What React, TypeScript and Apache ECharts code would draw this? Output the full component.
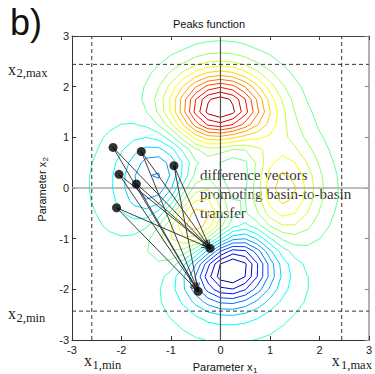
import React, { useEffect, useRef } from "react";
import * as echarts from "echarts";

// grid of the Peaks function (x1 and x2 share the same sampling)
const GRID = [-3, -2.75, -2.5, -2.25, -2, -1.75, -1.5, -1.25, -1, -0.75, -0.5, -0.25, 0, 0.25, 0.5, 0.75, 1, 1.25, 1.5, 1.75, 2, 2.25, 2.5, 2.75, 3];
// contour levels (20 levels between grid min and max)
const LEVELS = [-5.648, -4.965, -4.283, -3.6, -2.918, -2.236, -1.553, -0.871, -0.189, 0.494, 1.176, 1.859, 2.541, 3.224, 3.906, 4.588, 5.271, 5.953, 6.636, 7.318];
const COLOR_LIMITS = [-6.33, 8.0];
// population members and basin targets
const SOURCES = [[-2.17, 0.8], [-1.6, 0.72], [-0.94, 0.44], [-2.05, 0.27], [-1.7, 0.08], [-2.1, -0.39]];
const TARGETS = [[-0.21, -1.19], [-0.45, -2.04]];
// search bounds
const X1_LIMITS = [-2.6, 2.45];
const X2_LIMITS = [-2.43, 2.44];
const AXIS_RANGE = [-3, 3];

function peaks(x: number, y: number) {
  return (
    3 * (1 - x) ** 2 * Math.exp(-x * x - (y + 1) ** 2) -
    10 * (x / 5 - x ** 3 - y ** 5) * Math.exp(-x * x - y * y) -
    Math.exp(-((x + 1) ** 2) - y * y) / 3
  );
}

function jet(t: number) {
  const c = (v: number) => Math.round(255 * Math.max(0, Math.min(1, v)));
  return `rgb(${c(Math.min(4 * t - 1.5, -4 * t + 4.5))},${c(Math.min(4 * t - 0.5, -4 * t + 3.5))},${c(Math.min(4 * t + 0.5, -4 * t + 2.5))})`;
}

function contourPolylines(Z: number[][], L: number): number[][][] {
  const n = GRID.length;
  const pts = new Map<string, number[]>();
  const segs: string[][] = [];
  const ep = (key: string, xa: number, ya: number, za: number, xb: number, yb: number, zb: number) => {
    if (!pts.has(key)) {
      const t = (L - za) / (zb - za);
      pts.set(key, [xa + t * (xb - xa), ya + t * (yb - ya)]);
    }
    return key;
  };
  for (let j = 0; j < n - 1; j++) {
    for (let i = 0; i < n - 1; i++) {
      const x0 = GRID[i], x1 = GRID[i + 1], y0 = GRID[j], y1 = GRID[j + 1];
      const v0 = Z[j][i], v1 = Z[j][i + 1], v2 = Z[j + 1][i + 1], v3 = Z[j + 1][i];
      const cr: Record<string, string> = {};
      if ((v0 >= L) !== (v1 >= L)) cr.B = ep(`h${i}_${j}`, x0, y0, v0, x1, y0, v1);
      if ((v1 >= L) !== (v2 >= L)) cr.R = ep(`v${i + 1}_${j}`, x1, y0, v1, x1, y1, v2);
      if ((v3 >= L) !== (v2 >= L)) cr.T = ep(`h${i}_${j + 1}`, x0, y1, v3, x1, y1, v2);
      if ((v0 >= L) !== (v3 >= L)) cr.L = ep(`v${i}_${j}`, x0, y0, v0, x0, y1, v3);
      const ks = Object.keys(cr);
      if (ks.length === 2) segs.push([cr[ks[0]], cr[ks[1]]]);
      else if (ks.length === 4) {
        const c = (v0 + v1 + v2 + v3) / 4 >= L;
        if (c === v0 >= L) {
          segs.push([cr.B, cr.R]);
          segs.push([cr.T, cr.L]);
        } else {
          segs.push([cr.B, cr.L]);
          segs.push([cr.R, cr.T]);
        }
      }
    }
  }
  const adj = new Map<string, number[]>();
  segs.forEach((s, idx) => {
    s.forEach((k) => {
      if (!adj.has(k)) adj.set(k, []);
      adj.get(k)!.push(idx);
    });
  });
  const used = new Array(segs.length).fill(false);
  const lines: number[][][] = [];
  for (let s = 0; s < segs.length; s++) {
    if (used[s]) continue;
    used[s] = true;
    const chain = [segs[s][0], segs[s][1]];
    let cur = segs[s][1];
    for (;;) {
      const nx = (adj.get(cur) || []).find((q) => !used[q]);
      if (nx === undefined) break;
      used[nx] = true;
      cur = segs[nx][0] === cur ? segs[nx][1] : segs[nx][0];
      chain.push(cur);
    }
    cur = segs[s][0];
    for (;;) {
      const nx = (adj.get(cur) || []).find((q) => !used[q]);
      if (nx === undefined) break;
      used[nx] = true;
      cur = segs[nx][0] === cur ? segs[nx][1] : segs[nx][0];
      chain.unshift(cur);
    }
    lines.push(chain.map((k) => pts.get(k)!));
  }
  return lines;
}

const SANS = "Liberation Sans";
const SERIF = "Liberation Serif";

function subLabel(x: number, baseline: number, sub: string, subX: number, subBaseline: number) {
  return [
    { type: "text", x, y: baseline - 0.34 * 16, silent: true, style: { text: "x", font: `16px "${SERIF}"`, fill: "#222", textAlign: "left", textVerticalAlign: "middle" } },
    { type: "text", x: subX, y: subBaseline - 0.34 * 12.5, silent: true, style: { text: sub, font: `12.5px "${SERIF}"`, fill: "#222", textAlign: "left", textVerticalAlign: "middle" } },
  ];
}

export default function App() {
  const ref = useRef<HTMLDivElement>(null);
  useEffect(() => {
    if (!ref.current) return;
    const chart = echarts.init(ref.current, undefined, { renderer: "svg" });
    const Z = GRID.map((y) => GRID.map((x) => peaks(x, y)));
    const contourSeries: any[] = [];
    LEVELS.forEach((L) => {
      const color = jet((L - COLOR_LIMITS[0]) / (COLOR_LIMITS[1] - COLOR_LIMITS[0]));
      contourPolylines(Z, L).forEach((pl) => {
        contourSeries.push({
          type: "line",
          data: pl,
          showSymbol: false,
          symbol: "none",
          silent: true,
          z: 2,
          lineStyle: { color, width: 1 },
        });
      });
    });
    const refLine = (data: number[][], color: string, width: number, type: any) => ({
      type: "line",
      data,
      symbol: "none",
      silent: true,
      z: 3,
      lineStyle: { color, width, type },
    });
    const vectors = SOURCES.flatMap((s) => TARGETS.map((t) => [s[0], s[1], t[0], t[1]]));
    const axisCommon = {
      type: "value",
      min: AXIS_RANGE[0],
      max: AXIS_RANGE[1],
      interval: 1,
      splitLine: { show: false },
    };
    const option: any = {
      animation: false,
      backgroundColor: "#fff",
      grid: { left: 72, top: 36, width: 298, height: 304 },
      xAxis: [
        {
          ...axisCommon,
          position: "bottom",
          axisLine: { show: true, onZero: false, lineStyle: { color: "#333", width: 1 } },
          axisTick: { show: true, inside: true, length: 4, lineStyle: { color: "#333" } },
          axisLabel: { fontSize: 11, fontFamily: SANS, color: "#222", margin: 4 },
        },
        {
          ...axisCommon,
          position: "top",
          axisLine: { show: true, onZero: false, lineStyle: { color: "#444", width: 1 } },
          axisTick: { show: true, inside: true, length: 4, lineStyle: { color: "#444" } },
          axisLabel: { show: false },
        },
      ],
      yAxis: [
        {
          ...axisCommon,
          position: "left",
          axisLine: { show: true, onZero: false, lineStyle: { color: "#333", width: 1 } },
          axisTick: { show: true, inside: true, length: 4, lineStyle: { color: "#333" } },
          axisLabel: { fontSize: 11, fontFamily: SANS, color: "#222", margin: 3 },
        },
        {
          ...axisCommon,
          position: "right",
          axisLine: { show: true, onZero: false, lineStyle: { color: "#999", width: 1.5 } },
          axisTick: { show: true, inside: true, length: 4, lineStyle: { color: "#888" } },
          axisLabel: { show: false },
        },
      ],
      series: [
        ...contourSeries,
        refLine([[0, AXIS_RANGE[0]], [0, AXIS_RANGE[1]]], "#555", 1.2, "solid"),
        refLine([[AXIS_RANGE[0], 0], [AXIS_RANGE[1], 0]], "#a8a8a8", 1.5, "solid"),
        ...X1_LIMITS.map((v) => refLine([[v, AXIS_RANGE[0]], [v, AXIS_RANGE[1]]], "#333", 1, [4, 3])),
        ...X2_LIMITS.map((v) => refLine([[AXIS_RANGE[0], v], [AXIS_RANGE[1], v]], "#333", 1, [4, 3])),
        {
          type: "custom",
          coordinateSystem: "cartesian2d",
          data: vectors,
          encode: { x: [0, 2], y: [1, 3] },
          silent: true,
          z: 4,
          renderItem: (params: any, api: any) => {
            const p1 = api.coord([api.value(0), api.value(1)]);
            const p2 = api.coord([api.value(2), api.value(3)]);
            const ang = Math.atan2(p2[1] - p1[1], p2[0] - p1[0]);
            const len = 9;
            const a = 0.3;
            const h1 = [p2[0] - len * Math.cos(ang - a), p2[1] - len * Math.sin(ang - a)];
            const h2 = [p2[0] - len * Math.cos(ang + a), p2[1] - len * Math.sin(ang + a)];
            const st = { stroke: "#2a2a2a", lineWidth: 0.9, fill: "none" };
            return {
              type: "group",
              children: [
                { type: "line", shape: { x1: p1[0], y1: p1[1], x2: p2[0], y2: p2[1] }, style: st },
                { type: "polyline", shape: { points: [h1, p2, h2] }, style: st },
              ],
            };
          },
        },
        {
          type: "scatter",
          data: [...SOURCES, ...TARGETS],
          symbolSize: 9,
          itemStyle: { color: "#000" },
          silent: true,
          z: 5,
        },
      ],
      graphic: [
        { type: "text", x: 10, y: 22.5, silent: true, style: { text: "b)", font: `36px "${SANS}"`, fill: "#111", textAlign: "left", textVerticalAlign: "middle" } },
        { type: "text", x: 209, y: 24.2, silent: true, style: { text: "Peaks function", font: `11px "${SANS}"`, fill: "#111", textAlign: "center", textVerticalAlign: "middle" } },
        { type: "text", x: 192.7, y: 371.2 - 3.8, silent: true, style: { text: "Parameter x", font: `11px "${SANS}"`, fill: "#111", textAlign: "left", textVerticalAlign: "middle" } },
        { type: "text", x: 253, y: 371.2 + 2 - 2.8, silent: true, style: { text: "1", font: `8px "${SANS}"`, fill: "#111", textAlign: "left", textVerticalAlign: "middle" } },
        {
          type: "group",
          x: 46.2,
          y: 221.7,
          rotation: Math.PI / 2,
          silent: true,
          children: [
            { type: "text", x: 0, y: -3.8, style: { text: "Parameter x", font: `11px "${SANS}"`, fill: "#111", textAlign: "left", textVerticalAlign: "middle" } },
            { type: "text", x: 60.3, y: -0.8, style: { text: "2", font: `8px "${SANS}"`, fill: "#111", textAlign: "left", textVerticalAlign: "middle" } },
          ],
        },
        ...subLabel(8, 75, "2,max", 16.5, 77.5),
        ...subLabel(8, 318.5, "2,min", 16.5, 322),
        ...subLabel(84, 366, "1,min", 92.5, 369),
        ...subLabel(331.7, 366, "1,max", 341, 369),
        { type: "text", x: 200, y: 175, silent: true, style: { text: "difference vectors", font: `15px "${SERIF}"`, fill: "#333", textAlign: "left", textVerticalAlign: "middle" } },
        { type: "text", x: 200, y: 194.3, silent: true, style: { text: "promoting basin-to-basin", font: `15px "${SERIF}"`, fill: "#333", textAlign: "left", textVerticalAlign: "middle" } },
        { type: "text", x: 200, y: 213.3, silent: true, style: { text: "transfer", font: `15px "${SERIF}"`, fill: "#333", textAlign: "left", textVerticalAlign: "middle" } },
      ],
    };
    chart.setOption(option);
    return () => chart.dispose();
  }, []);
  return (
    <div
      ref={ref}
      style={{ position: "fixed", left: 0, top: 0, width: 375, height: 374, background: "#fff" }}
    />
  );
}
